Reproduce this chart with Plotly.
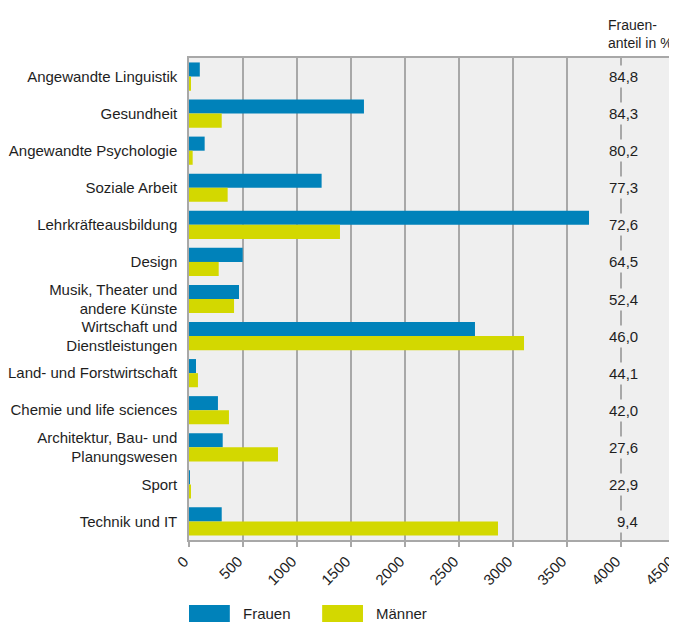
import plotly.graph_objects as go

# Studienbereiche (von oben nach unten)
categories = [
    "Angewandte Linguistik",
    "Gesundheit",
    "Angewandte Psychologie",
    "Soziale Arbeit",
    "Lehrkräfteausbildung",
    "Design",
    "Musik, Theater und<br>andere Künste",
    "Wirtschaft und<br>Dienstleistungen",
    "Land- und Forstwirtschaft",
    "Chemie und life sciences",
    "Architektur, Bau- und<br>Planungswesen",
    "Sport",
    "Technik und IT",
]
frauen = [100, 1620, 145, 1228, 3704, 497, 463, 2648, 65, 268, 312, 5, 303]
maenner = [18, 303, 34, 358, 1398, 275, 417, 3102, 83, 370, 824, 18, 2861]
frauenanteil = ["84,8", "84,3", "80,2", "77,3", "72,6", "64,5", "52,4",
                "46,0", "44,1", "42,0", "27,6", "22,9", "9,4"]

BLUE = "#0082ba"
YELLOW = "#d3d800"
GRID = "#a8a8a8"
BG = "#efefef"
TXT = "#1e1e1e"
FONT = "Liberation Sans, Arial, sans-serif"

fig = go.Figure()
fig.add_trace(go.Bar(y=categories, x=frauen, name="Frauen", orientation="h",
                     marker=dict(color=BLUE, line_width=0)))
fig.add_trace(go.Bar(y=categories, x=maenner, name="Männer", orientation="h",
                     marker=dict(color=YELLOW, line_width=0)))

# Frauenanteil-Spalte auf der 4000er-Linie (rechtsbündig)
for cat, pct in zip(categories, frauenanteil):
    fig.add_annotation(x=4000, y=cat, text=pct, showarrow=False,
                       xref="x", yref="y", xanchor="right", xshift=20,
                       bgcolor=BG, borderpad=2,
                       font=dict(size=15, color=TXT))

fig.add_annotation(xref="paper", yref="paper", x=0.858, y=1.0, yshift=5,
                   xanchor="left", yanchor="bottom", align="left",
                   text="Frauen-<br>anteil in %", showarrow=False,
                   font=dict(size=14, color=TXT))

# Legende (breite Farbfelder wie im Original)
for i, (name, col) in enumerate([("Frauen", BLUE), ("Männer", YELLOW)]):
    x0 = i * 0.274
    fig.add_shape(type="rect", xref="paper", yref="paper",
                  x0=x0, x1=x0 + 0.084, y0=-0.135, y1=-0.17,
                  fillcolor=col, line_width=0)
    fig.add_annotation(xref="paper", yref="paper", x=x0 + 0.106, y=-0.1525,
                       xanchor="left", yanchor="middle", text=name,
                       showarrow=False, font=dict(size=15, color=TXT))

# die Seite hat 8px Rand, daher etwas kleiner
fig.update_layout(
    width=669, height=615,
    margin=dict(l=181, r=2, t=50, b=83),
    barmode="group", bargap=0.24, bargroupgap=0,
    plot_bgcolor=BG, paper_bgcolor="white",
    font=dict(family=FONT, size=15, color=TXT),
    showlegend=False,
    hovermode=False,
)
fig.update_xaxes(range=[0, 4500], dtick=500, tick0=0, tickangle=-45,
                 showgrid=True, gridcolor=GRID, gridwidth=1.5,
                 showline=True, linecolor=GRID, linewidth=1.5, mirror=True,
                 ticks="outside", ticklen=5, tickcolor=GRID, tickwidth=1.5,
                 zeroline=False, tickfont=dict(size=15), automargin=False,
                 ticklabeloverflow="allow", ticklabelshift=-5)
fig.update_yaxes(autorange="reversed", showgrid=False,
                 showline=True, linecolor=GRID, linewidth=1.5, mirror=True,
                 ticks="", ticklabelstandoff=7, tickfont=dict(size=15),
                 automargin=False)

fig.write_html("out.html")
